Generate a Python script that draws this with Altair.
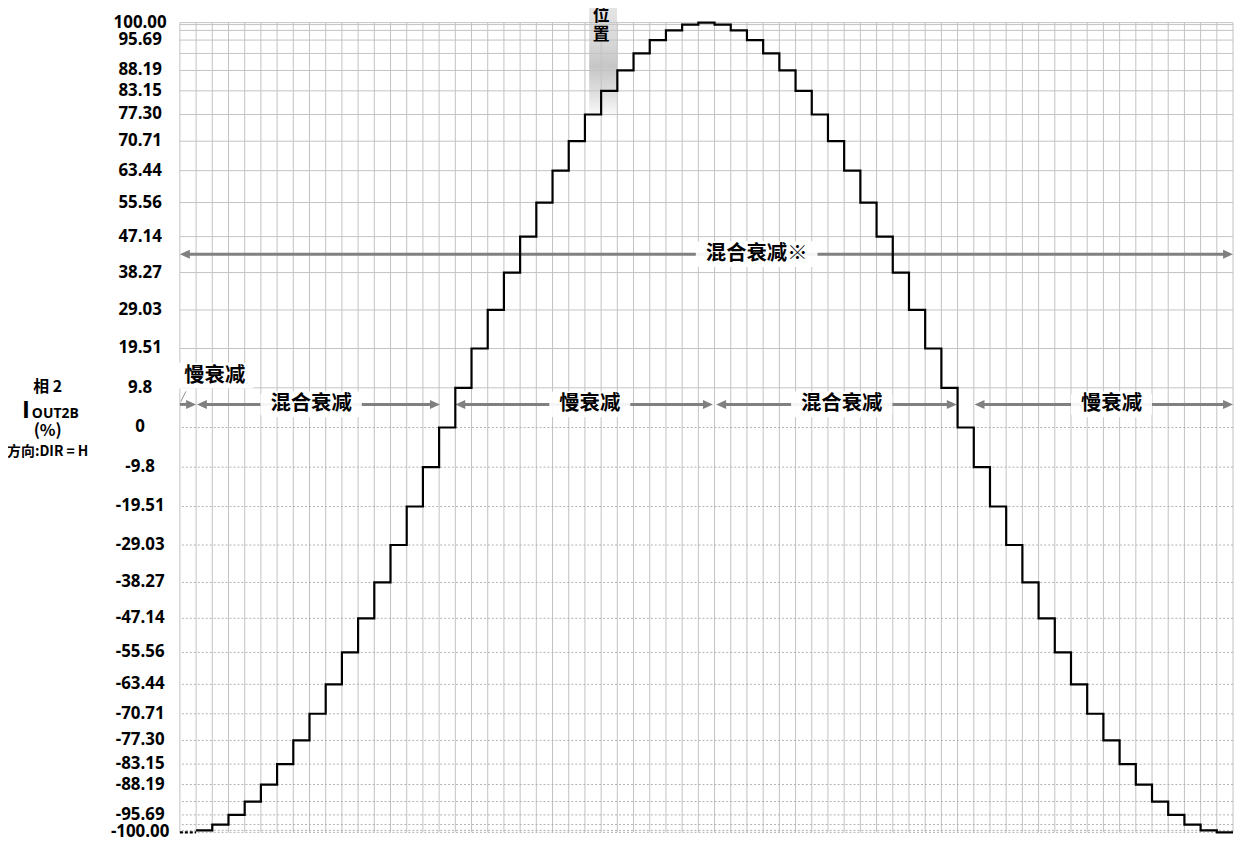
import altair as alt
import pandas as pd

# ---------------- data ----------------
steps = list(range(65))
current = [-100.00, -99.52, -98.08, -95.69, -92.39, -88.19, -83.15, -77.30,
           -70.71, -63.44, -55.56, -47.14, -38.27, -29.03, -19.51, -9.80,
           0.00, 9.80, 19.51, 29.03, 38.27, 47.14, 55.56, 63.44,
           70.71, 77.30, 83.15, 88.19, 92.39, 95.69, 98.08, 99.52,
           100.00, 99.52, 98.08, 95.69, 92.39, 88.19, 83.15, 77.30,
           70.71, 63.44, 55.56, 47.14, 38.27, 29.03, 19.51, 9.80,
           0.00, -9.80, -19.51, -29.03, -38.27, -47.14, -55.56, -63.44,
           -70.71, -77.30, -83.15, -88.19, -92.39, -95.69, -98.08, -99.52, -100.00]

tick_values = [100, 95.69, 88.19, 83.15, 77.30, 70.71, 63.44, 55.56, 47.14, 38.27,
               29.03, 19.51, 9.8, 0, -9.8, -19.51, -29.03, -38.27, -47.14, -55.56,
               -63.44, -70.71, -77.30, -83.15, -88.19, -95.69, -100]
tick_labels = ["100.00", "95.69", "88.19", "83.15", "77.30", "70.71", "63.44", "55.56",
               "47.14", "38.27", "29.03", "19.51", "9.8", "0", "-9.8", "-19.51", "-29.03",
               "-38.27", "-47.14", "-55.56", "-63.44", "-70.71", "-77.30", "-83.15",
               "-88.19", "-95.69", "-100.00"]

# decay-mode arrows (in step units)
low_start = [0.0, 1.05, 17.0, 33.1, 49.05]
low_end = [1.0, 16.05, 32.9, 47.95, 65.0]
low_left_head = [False, True, True, True, True]
low_level = 5.7
low_texts = ["混合衰减", "慢衰减", "混合衰减", "慢衰减"]
low_text_x = [8.1, 25.3, 40.85, 57.5]

top_start, top_end, top_level = 0.0, 65.0, 42.8
top_text, top_text_x = "混合衰减※", 35.6

small_text, small_text_x, small_text_y = "慢衰减", 2.15, 12.8
leader = {"x": [0.37], "y": [8.9], "x2": [0.06], "y2": [6.4]}

pos_label = ["位", "置"]
pos_x = 26.0
bar = {"x": [25.26], "x2": [26.98]}

side_rows = ["相 2", "(%)", "方向:DIR = H"]

# ---------------- scales ----------------
W, H = 1060, 815
PX_PER_STEP = W / 65.0
PX_PER_UNIT = H / 200.0
xs = alt.Scale(domain=[0, 65], nice=False, zero=False)
ys = alt.Scale(domain=[-100, 100], nice=False, zero=False)
X = lambda f: alt.X(f, type="quantitative", scale=xs, axis=None)
Y = lambda f: alt.Y(f, type="quantitative", scale=ys, axis=None)

CJK = "Noto Sans CJK SC"
NUM = "Open Sans"
ARROW = "#808080"
LAB_FS = 20.5

# ---------------- layers ----------------
levels = sorted(set(current))
hpos = pd.DataFrame({"v": [v for v in levels if v > 0]})
hneg = pd.DataFrame({"v": [v for v in levels if v <= 0]})
vgrid = pd.DataFrame({"g": list(range(66))})

bar_layer = alt.Chart(pd.DataFrame(bar)).mark_rect(
    color=alt.Gradient(gradient="linear", x1=0, y1=0, x2=0, y2=1,
                       stops=[alt.GradientStop(offset=0, color="#e6e6e6"),
                              alt.GradientStop(offset=0.3, color="#dadada"),
                              alt.GradientStop(offset=0.55, color="#c6c6c6"),
                              alt.GradientStop(offset=0.8, color="#e2e2e2"),
                              alt.GradientStop(offset=1, color="#ffffff")])
).encode(x=X("x"), x2="x2", y=alt.value(-20), y2=alt.value(97))

vgrid_layer = alt.Chart(vgrid).mark_rule(color="#c2c2c2", strokeWidth=1).encode(x=X("g"))
hpos_layer = alt.Chart(hpos).mark_rule(color="#c4c4c4", strokeWidth=1).encode(y=Y("v"))
hneg_layer = alt.Chart(hneg).mark_rule(color="#b0b0b0", strokeWidth=1,
                                       strokeDash=[2, 2]).encode(y=Y("v"))

# curve
solid_df = pd.DataFrame({"k": steps[1:] + [65], "v": current[1:] + [current[-1]]})
dash_df = pd.DataFrame({"k": [0, 1], "v": [current[0], current[0]]})
curve = alt.Chart(solid_df).mark_line(color="black", strokeWidth=2.2,
                                      interpolate="step-after").encode(x=X("k"), y=Y("v"))
curve_dash = alt.Chart(dash_df).mark_line(color="black", strokeWidth=2.2,
                                          strokeDash=[3, 2]).encode(x=X("k"), y=Y("v"))

# arrows
gap = 0.3
seg_rows, head_rows = [], []
for s, e, lh in zip(low_start, low_end, low_left_head):
    seg_rows.append({"x": s + (gap if lh else 0), "x2": e - gap, "y": low_level})
    head_rows.append({"x": e, "y": low_level, "d": "R"})
    if lh:
        head_rows.append({"x": s, "y": low_level, "d": "L"})
seg_rows.append({"x": top_start + gap, "x2": top_end - gap, "y": top_level})
head_rows.append({"x": top_start, "y": top_level, "d": "L"})
head_rows.append({"x": top_end, "y": top_level, "d": "R"})
seg_df = pd.DataFrame(seg_rows)
heads = pd.DataFrame(head_rows)

seg_layer = alt.Chart(seg_df).mark_rule(color=ARROW, strokeWidth=3).encode(
    x=X("x"), x2="x2", y=Y("y"))
rhead = alt.Chart(heads[heads.d == "R"]).mark_point(
    shape="M0,0L-2,-0.9L-2,0.9Z", filled=True, size=100, color=ARROW, opacity=1
).encode(x=X("x"), y=Y("y"))
lhead = alt.Chart(heads[heads.d == "L"]).mark_point(
    shape="M0,0L2,-0.9L2,0.9Z", filled=True, size=100, color=ARROW, opacity=1
).encode(x=X("x"), y=Y("y"))
leader_layer = alt.Chart(pd.DataFrame(leader)).mark_rule(color="#909090", strokeWidth=1).encode(
    x=X("x"), y=Y("y"), x2="x2", y2="y2")

# region labels + white backing boxes
lab_t = low_texts + [top_text, small_text]
lab_x = low_text_x + [top_text_x, small_text_x]
lab_y = [low_level] * 4 + [top_level, small_text_y]
lab_df = pd.DataFrame({"t": lab_t, "x": lab_x, "y": lab_y})
box_rows = []
for t, x, y in zip(lab_t, lab_x, lab_y):
    half_w = (len(t) * LAB_FS / 2 + 10) / PX_PER_STEP
    half_h = 13 / PX_PER_UNIT
    box_rows.append({"x": x - half_w, "x2": x + half_w, "y": y - half_h, "y2": y + half_h})
box_df = pd.DataFrame(box_rows)
lab_box = alt.Chart(box_df).mark_rect(color="white", opacity=0.92, cornerRadius=4).encode(
    x=X("x"), x2="x2", y=Y("y"), y2="y2")
lab_text = alt.Chart(lab_df).mark_text(font=CJK, fontWeight="bold", fontSize=LAB_FS,
                                       color="black").encode(x=X("x"), y=Y("y"), text="t:N")

# position label
pos_df = pd.DataFrame({"t": pos_label, "x": [pos_x, pos_x], "py": [-7, 12]})
pos_text = alt.Chart(pos_df).mark_text(font=CJK, fontWeight="bold", fontSize=17,
                                       color="black").encode(
    x=X("x"), y=alt.Y("py:Q", scale=None), text="t:N")

# y tick labels
tick_df = pd.DataFrame({"v": tick_values, "lab": tick_labels})
tick_layer = alt.Chart(tick_df).mark_text(font=NUM, fontWeight="bold", fontSize=17,
                                          color="black", align="center",
                                          baseline="middle").encode(
    x=alt.value(-40), y=Y("v"), text="lab:N")

# side title
side_df = pd.DataFrame({"t": side_rows, "py": [367, 411, 432], "fs": [16, 16.5, 14]})
side_layer = alt.Chart(side_df).mark_text(font=CJK, fontWeight="bold", color="black",
                                          align="center", baseline="middle").encode(
    x=alt.value(-133), y=alt.Y("py:Q", scale=None), text="t:N",
    size=alt.Size("fs:Q", scale=None, legend=None))
i_layer = alt.Chart(pd.DataFrame({"t": ["I"]})).mark_text(
    font=NUM, fontWeight="bold", fontSize=24, color="black", align="center",
    baseline="alphabetic").encode(x=alt.value(-155), y=alt.value(398), text="t:N")
sub_layer = alt.Chart(pd.DataFrame({"t": ["OUT2B"]})).mark_text(
    font=NUM, fontWeight="bold", fontSize=14, color="black", align="left",
    baseline="alphabetic").encode(x=alt.value(-149), y=alt.value(398), text="t:N")

chart = alt.layer(
    bar_layer, vgrid_layer, hpos_layer, hneg_layer,
    seg_layer, rhead, lhead, leader_layer,
    lab_box, lab_text,
    curve, curve_dash,
    pos_text,
    tick_layer, side_layer, i_layer, sub_layer,
).properties(
    width=W, height=H,
    autosize=alt.AutoSizeParams(type="none"),
    padding={"left": 173, "top": 12, "right": 2, "bottom": 8},
    background="white",
).configure_view(stroke=None)

chart.save("out.html", embed_options={"renderer": "svg", "actions": False})
